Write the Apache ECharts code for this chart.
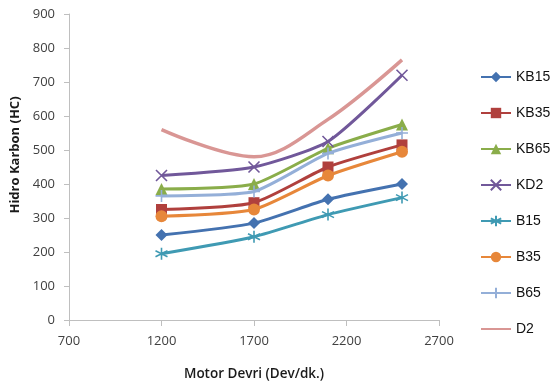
<!DOCTYPE html>
<html>
<head>
<meta charset="utf-8">
<script src="https://cdn.jsdelivr.net/npm/echarts@6/dist/echarts.min.js"></script>
<style>
  html, body { margin: 0; padding: 0; background: #fff; }
  #chart { width: 551px; height: 387px; }
</style>
</head>
<body>
<div id="chart"></div>
<script>
// Engine speed (rpm) at which HC was measured
const speeds = [1200, 1700, 2100, 2500];

// Hydrocarbon emissions per fuel blend
const KB15 = [250, 285, 355, 400];
const KB35 = [325, 345, 450, 515];
const KB65 = [385, 400, 505, 575];
const KD2  = [425, 450, 525, 720];
const B15  = [195, 245, 310, 360];
const B35  = [305, 325, 425, 495];
const B65  = [365, 378, 490, 550];
const D2   = [560, 480, 590, 765];

const names = ['KB15', 'KB35', 'KB65', 'KD2', 'B15', 'B35', 'B65', 'D2'];
const values = [KB15, KB35, KB65, KD2, B15, B35, B65, D2];
const colors = ['#4472b0', '#b0403d', '#8aad4a', '#71589a', '#3f9ab3', '#e7873a', '#94afd8', '#d99694'];

// Outline-only marker shapes
const X_SHAPE = 'path://M0,0L10,10M10,0L0,10';
const STAR_SHAPE = 'path://M5,0L5,10M0.7,2.5L9.3,7.5M0.7,7.5L9.3,2.5';
const PLUS_SHAPE = 'path://M5,0L5,10M0,5L10,5';

const markers = [
  { symbol: 'diamond', size: 12, stroke: false },
  { symbol: 'rect', size: 11, stroke: false },
  { symbol: 'triangle', size: 12, stroke: false },
  { symbol: X_SHAPE, size: 11, stroke: true },
  { symbol: STAR_SHAPE, size: 12, stroke: true },
  { symbol: 'circle', size: 12, stroke: false },
  { symbol: PLUS_SHAPE, size: 12, stroke: true },
  { symbol: 'none', size: 0, stroke: false }
];

const series = names.map((name, i) => {
  const m = markers[i];
  const itemStyle = { color: colors[i] };
  if (m.stroke) {
    itemStyle.borderColor = colors[i];
    itemStyle.borderWidth = 1.6;
  }
  return {
    name: name,
    type: 'line',
    data: speeds.map((s, j) => [s, values[i][j]]),
    smooth: name === 'D2' ? 0.35 : 0.2,
    symbol: m.symbol,
    symbolSize: m.size,
    showSymbol: m.symbol !== 'none',
    lineStyle: { color: colors[i], width: name === 'D2' ? 3.5 : 3 },
    itemStyle: itemStyle,
    emphasis: { disabled: true },
    z: 2 + i
  };
});

// D2 has no marker, so its legend entry shows the line alone
const legendData = names.map((n, i) =>
  markers[i].symbol === 'none' ? { name: n, itemStyle: { opacity: 0 } } : n
);

const chart = echarts.init(document.getElementById('chart'), null, { renderer: 'canvas' });
chart.setOption({
  animation: false,
  backgroundColor: '#ffffff',
  grid: { left: 69, right: 112, top: 14, bottom: 67, containLabel: false },
  legend: {
    orient: 'vertical',
    left: 480,
    top: 70,
    padding: 0,
    itemWidth: 30,
    itemHeight: 13,
    itemGap: 22,
    selectedMode: false,
    textStyle: { fontFamily: 'Liberation Sans', fontSize: 14, color: '#111' },
    data: legendData
  },
  xAxis: {
    type: 'value',
    min: 700,
    max: 2700,
    interval: 500,
    name: 'Motor Devri (Dev/dk.)',
    nameLocation: 'middle',
    nameGap: 47,
    nameTextStyle: { fontFamily: 'Open Sans', fontSize: 13.5, fontWeight: 600, color: '#1a1a1a' },
    axisLine: { show: true, lineStyle: { color: '#bfbfbf', width: 1 } },
    axisTick: { show: true, inside: false, length: 6, lineStyle: { color: '#bfbfbf' } },
    axisLabel: {
      fontFamily: 'Open Sans', fontSize: 13, color: '#404040', margin: 15,
      formatter: v => String(v)
    },
    splitLine: { show: false }
  },
  yAxis: {
    type: 'value',
    min: 0,
    max: 900,
    interval: 100,
    name: 'Hidro Karbon (HC)',
    nameLocation: 'middle',
    nameGap: 39,
    nameTextStyle: { fontFamily: 'Open Sans', fontSize: 13, fontWeight: 'bold', color: '#1a1a1a', padding: [0, 0, 0, 24] },
    axisLine: { show: true, lineStyle: { color: '#bfbfbf', width: 1 } },
    axisTick: { show: true, inside: false, length: 5, lineStyle: { color: '#bfbfbf' } },
    axisLabel: {
      fontFamily: 'Open Sans', fontSize: 13, color: '#404040', margin: 14,
      formatter: v => String(v)
    },
    splitLine: { show: false }
  },
  series: series
});
</script>
</body>
</html>
